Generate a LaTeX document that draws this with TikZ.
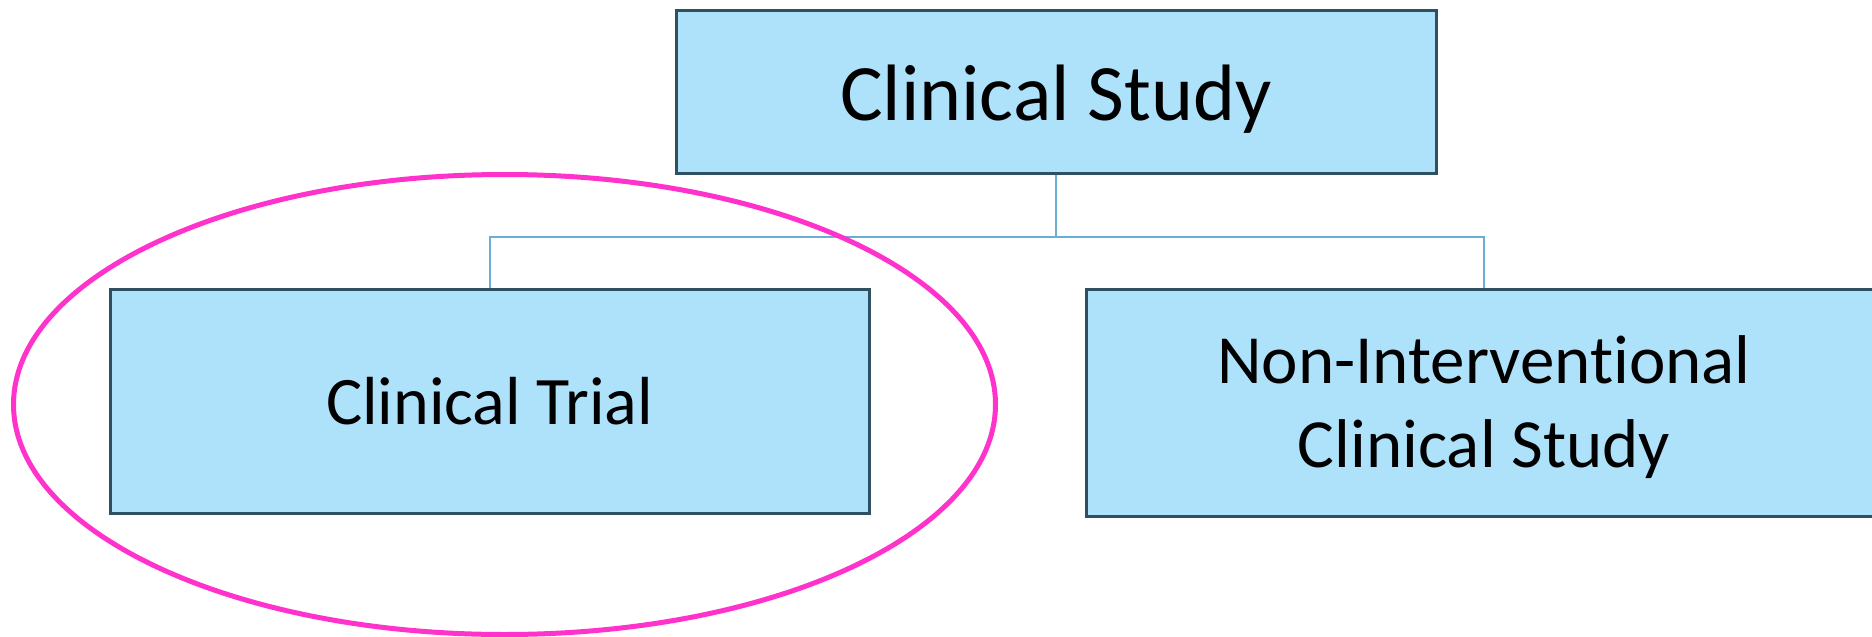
\documentclass[tikz,border=0pt]{standalone}
\usepackage{fontspec}
\setmainfont{Carlito}[Ligatures=NoCommon]
\definecolor{boxfill}{HTML}{AEE1FA}
\definecolor{boxline}{HTML}{2F5060}
\definecolor{connline}{HTML}{6AAFD3}
\definecolor{ringcol}{HTML}{FF33CC}
\tikzset{
  box/.style={draw=boxline, fill=boxfill, line width=3pt, rectangle, inner sep=0pt, align=center, text=black},
  conn/.style={draw=connline, line width=2pt},
  ring/.style={draw=ringcol, line width=5pt}
}
\begin{document}
\begin{tikzpicture}[x=1pt,y=-1pt]
\useasboundingbox (0,0) rectangle (1872,637);
\clip (0,0) rectangle (1872,637);
\fill[white] (0,0) rectangle (1872,637);
\node[box, minimum width=760pt, minimum height=163pt, text height=57pt, text depth=0pt, font=\fontsize{80}{96}\selectfont] (top) at (1056,91.5) {Clinical Study};
\node[box, minimum width=759pt, minimum height=224pt, font=\fontsize{68}{82}\selectfont] (left) at (489.5,401) {Clinical Trial};
\node[box, minimum width=796pt, minimum height=227pt,
  label={[font=\fontsize{69}{84}\selectfont, align=center, inner sep=0pt, yshift=-5pt]center:Non-Interventional\\Clinical Study}] (right) at (1484,402.5) {};
\coordinate (j) at (1056,237);
\draw[conn] (top.south) -- (j);
\draw[conn] (left.north) |- (j) -| (right.north);
\coordinate (rc) at (504.5,404.5);
\draw[ring] (rc) ellipse [x radius=491pt, y radius=230pt];
\end{tikzpicture}
\end{document}
